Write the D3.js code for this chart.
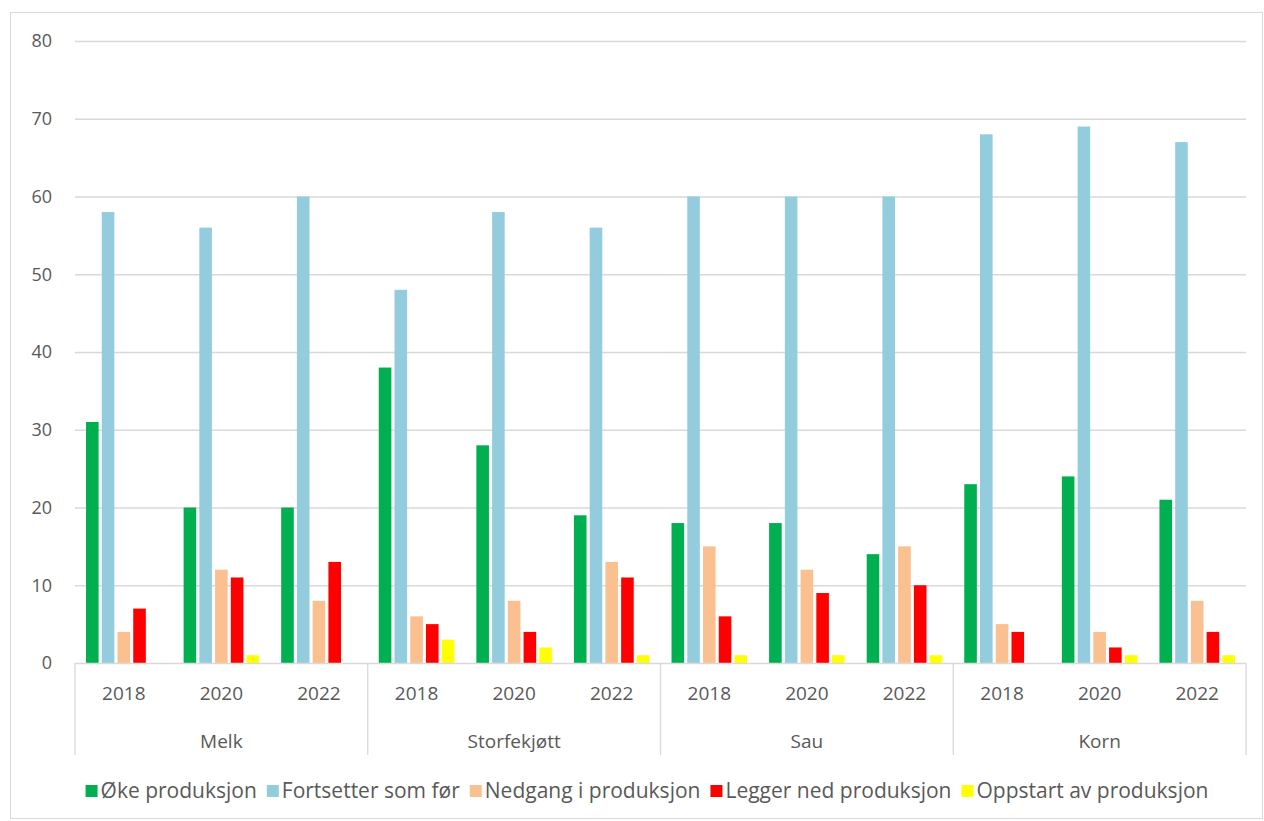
<!DOCTYPE html>
<html><head><meta charset="utf-8">
<script src="https://cdn.jsdelivr.net/npm/d3@7"></script>
<style>body{margin:0;background:#fff}svg{display:block}text{font-family:"Open Sans","Noto Sans",sans-serif;fill:#595959}</style>
</head><body><svg id="c" width="1264" height="821"></svg>
<script>
const groups = ["Melk","Storfekjøtt","Sau","Korn"];
const years = ["2018","2020","2022"];
const seriesNames = ["Øke produksjon","Fortsetter som før","Nedgang i produksjon","Legger ned produksjon","Oppstart av produksjon"];
const colors = ["#00b050","#93cddd","#fac090","#ff0000","#ffff00"];
const yTicks = [0,10,20,30,40,50,60,70,80];
// values per (group, year) in series order
const okeProd    = [31,20,20, 38,28,19, 18,18,14, 23,24,21];
const fortsetter = [58,56,60, 48,58,56, 60,60,60, 68,69,67];
const nedgang    = [4,12,8,   6,8,13,   15,12,15, 5,4,8];
const leggerNed  = [7,11,13,  5,4,11,   6,9,10,   4,2,4];
const oppstart   = [0,1,0,    3,2,1,    1,1,1,    0,1,1];
const seriesVals = [okeProd,fortsetter,nedgang,leggerNed,oppstart];

(function(){
const svg = d3.select("#c");
svg.append("rect").attr("x",10.5).attr("y",12.5).attr("width",1252).attr("height",806)
  .attr("fill","#fff").attr("stroke","#d9d9d9");

const pL=75,pR=1246,pT=41,pB=663;
const cats = [];
groups.forEach(g=>years.forEach(y=>cats.push(g+"|"+y)));
const x = d3.scaleBand().domain(cats).range([pL,pR]).paddingInner(0).paddingOuter(0);
const y = d3.scaleLinear().domain([0,80]).range([pB,pT]);
const xs = d3.scaleBand().domain(seriesNames).range([0,x.bandwidth()]).paddingInner(0.2).paddingOuter(0.7);

// grid
svg.append("g").selectAll("line").data(yTicks.filter(t=>t>0)).join("line")
  .attr("x1",pL).attr("x2",pR).attr("y1",d=>y(d)+0.5).attr("y2",d=>y(d)+0.5)
  .attr("stroke","#d9d9d9").attr("stroke-width",1.3);
svg.append("g").selectAll("text").data(yTicks).join("text")
  .attr("x",52).attr("y",d=>y(d)).attr("dy","0.35em").attr("text-anchor","end")
  .attr("font-size",18).text(d=>d);

// bars
const data=[];
cats.forEach((c,i)=>seriesNames.forEach((s,j)=>data.push({c,s,j,v:seriesVals[j][i]})));
svg.append("g").selectAll("rect").data(data.filter(d=>d.v>0)).join("rect")
  .attr("x",d=>x(d.c)+xs(d.s)).attr("width",xs.bandwidth())
  .attr("y",d=>y(d.v)).attr("height",d=>y(0)-y(d.v)).attr("fill",d=>colors[d.j]);

// axis lines
svg.append("line").attr("x1",pL).attr("x2",pR).attr("y1",pB+0.5).attr("y2",pB+0.5)
  .attr("stroke","#d9d9d9").attr("stroke-width",1.3);
const gw = (pR-pL)/groups.length;
const seps = d3.range(groups.length+1).map(i=>pL+i*gw);
svg.append("g").selectAll("line").data(seps).join("line")
  .attr("x1",d=>d).attr("x2",d=>d).attr("y1",pB).attr("y2",755)
  .attr("stroke","#d9d9d9").attr("stroke-width",1.3);
svg.append("g").selectAll("text").data(cats).join("text")
  .attr("x",d=>x(d)+x.bandwidth()/2).attr("y",693).attr("dy","0.35em").attr("text-anchor","middle")
  .attr("font-size",19).text(d=>d.split("|")[1]);
svg.append("g").selectAll("text").data(groups).join("text")
  .attr("x",(d,i)=>pL+gw*(i+0.5)).attr("y",741).attr("dy","0.35em").attr("text-anchor","middle")
  .attr("font-size",19).text(d=>d);

// legend
const lg = svg.append("g");
const items = lg.selectAll("g").data(seriesNames).join("g");
items.append("rect").attr("width",12).attr("height",12).attr("y",-6).attr("fill",(d,i)=>colors[i]);
const texts = items.append("text").attr("x",15).attr("dy","0.35em").attr("font-size",21).text(d=>d);
let pos=0; const gap=10; const offs=[];
texts.each(function(){const w=this.getComputedTextLength(); offs.push(pos); pos+=15+w+gap;});
const total=pos-gap;
items.attr("transform",(d,i)=>`translate(${647-total/2+offs[i]},791)`);
})();
</script></body></html>
